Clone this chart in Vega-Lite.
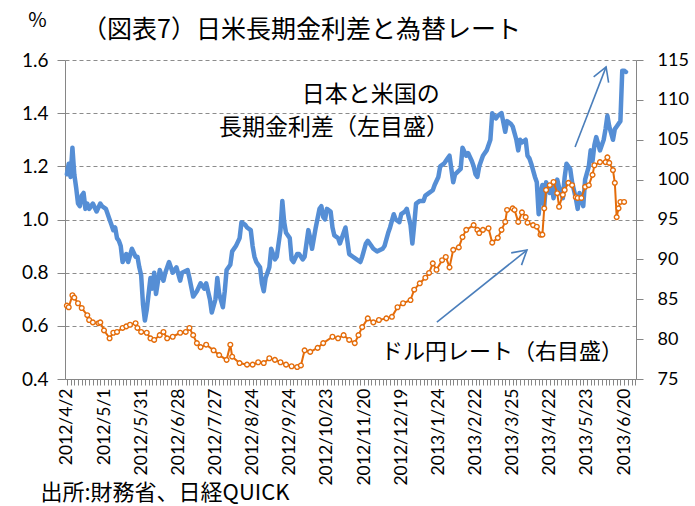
{
  "$schema": "https://vega.github.io/schema/vega-lite/v6.json",
  "width": 571,
  "height": 319,
  "autosize": {"type": "none"},
  "padding": {"left": 65, "top": 60, "right": 59, "bottom": 127},
  "background": "white",
  "title": {"text": "（図表7）日米長期金利差と為替レート", "anchor": "start", "frame": "group", "dx": 17, "offset": -58, "baseline": "bottom", "font": "Noto Sans CJK JP", "fontSize": 25, "fontWeight": "normal", "color": "#000000"},
  "config": {
    "view": {"stroke": null},
    "axis": {"domainColor": "#868686", "tickColor": "#868686", "labelColor": "#000000", "labelFont": "Lato", "gridColor": "#8c8c8c", "gridDash": [4, 3], "gridWidth": 1}
  },
  "datasets": {
    "spread": [
      {"i":0,"v":1.17},{"i":1,"v":1.21},{"i":2,"v":1.16},{"i":3,"v":1.27},{"i":4,"v":1.17},{"i":5,"v":1.12},{"i":6,"v":1.06},{"i":7,"v":1.05},{"i":8,"v":1.09},{"i":9,"v":1.10},{"i":10,"v":1.04},{"i":11,"v":1.06},{"i":12,"v":1.04},{"i":14,"v":1.06},{"i":16,"v":1.03},{"i":18,"v":1.06},{"i":19,"v":1.05},{"i":21,"v":1.04},{"i":23,"v":1.00},{"i":24,"v":0.98},{"i":25,"v":0.96},{"i":26,"v":0.97},{"i":27,"v":0.93},{"i":28,"v":0.92},{"i":29,"v":0.90},{"i":30,"v":0.84},{"i":32,"v":0.87},{"i":33,"v":0.84},{"i":35,"v":0.89},{"i":37,"v":0.86},{"i":38,"v":0.86},{"i":39,"v":0.82},{"i":40,"v":0.79},{"i":41,"v":0.68},{"i":42,"v":0.62},{"i":43,"v":0.66},{"i":45,"v":0.78},{"i":46,"v":0.74},{"i":47,"v":0.80},{"i":48,"v":0.72},{"i":50,"v":0.81},{"i":52,"v":0.77},{"i":53,"v":0.80},{"i":55,"v":0.84},{"i":57,"v":0.80},{"i":59,"v":0.82},{"i":61,"v":0.77},{"i":62,"v":0.80},{"i":65,"v":0.81},{"i":66,"v":0.78},{"i":68,"v":0.71},{"i":70,"v":0.73},{"i":72,"v":0.76},{"i":74,"v":0.74},{"i":75,"v":0.76},{"i":77,"v":0.70},{"i":78,"v":0.65},{"i":80,"v":0.70},{"i":81,"v":0.78},{"i":82,"v":0.72},{"i":84,"v":0.67},{"i":85,"v":0.73},{"i":86,"v":0.81},{"i":88,"v":0.83},{"i":89,"v":0.88},{"i":91,"v":0.90},{"i":93,"v":0.93},{"i":94,"v":0.99},{"i":96,"v":0.98},{"i":97,"v":0.97},{"i":99,"v":0.96},{"i":100,"v":0.90},{"i":101,"v":0.86},{"i":102,"v":0.84},{"i":104,"v":0.82},{"i":105,"v":0.76},{"i":106,"v":0.73},{"i":107,"v":0.78},{"i":109,"v":0.82},{"i":110,"v":0.89},{"i":112,"v":0.85},{"i":113,"v":0.86},{"i":115,"v":0.96},{"i":116,"v":1.07},{"i":117,"v":0.99},{"i":118,"v":0.95},{"i":120,"v":0.93},{"i":121,"v":0.85},{"i":122,"v":0.84},{"i":124,"v":0.87},{"i":125,"v":0.87},{"i":127,"v":0.85},{"i":128,"v":0.86},{"i":130,"v":0.96},{"i":131,"v":0.93},{"i":132,"v":0.89},{"i":134,"v":0.97},{"i":136,"v":1.04},{"i":137,"v":1.05},{"i":138,"v":1.01},{"i":139,"v":1.00},{"i":140,"v":1.04},{"i":142,"v":1.03},{"i":143,"v":0.97},{"i":144,"v":0.94},{"i":146,"v":0.93},{"i":147,"v":0.91},{"i":149,"v":0.95},{"i":150,"v":0.97},{"i":151,"v":0.92},{"i":152,"v":0.87},{"i":154,"v":0.86},{"i":156,"v":0.85},{"i":158,"v":0.84},{"i":159,"v":0.86},{"i":161,"v":0.91},{"i":162,"v":0.92},{"i":164,"v":0.90},{"i":165,"v":0.89},{"i":167,"v":0.88},{"i":170,"v":0.89},{"i":171,"v":0.90},{"i":173,"v":0.95},{"i":174,"v":0.97},{"i":176,"v":1.02},{"i":177,"v":1.00},{"i":179,"v":0.99},{"i":180,"v":1.02},{"i":182,"v":1.03},{"i":183,"v":1.04},{"i":185,"v":0.98},{"i":186,"v":0.91},{"i":187,"v":0.98},{"i":188,"v":1.06},{"i":190,"v":1.07},{"i":192,"v":1.07},{"i":193,"v":1.09},{"i":195,"v":1.10},{"i":197,"v":1.11},{"i":198,"v":1.13},{"i":200,"v":1.16},{"i":201,"v":1.20},{"i":203,"v":1.21},{"i":205,"v":1.23},{"i":206,"v":1.24},{"i":208,"v":1.14},{"i":209,"v":1.17},{"i":212,"v":1.19},{"i":213,"v":1.27},{"i":215,"v":1.24},{"i":216,"v":1.25},{"i":218,"v":1.22},{"i":219,"v":1.20},{"i":220,"v":1.17},{"i":221,"v":1.16},{"i":222,"v":1.20},{"i":224,"v":1.24},{"i":226,"v":1.26},{"i":228,"v":1.30},{"i":229,"v":1.40},{"i":231,"v":1.38},{"i":232,"v":1.39},{"i":234,"v":1.40},{"i":236,"v":1.33},{"i":237,"v":1.37},{"i":239,"v":1.36},{"i":240,"v":1.35},{"i":242,"v":1.30},{"i":243,"v":1.26},{"i":244,"v":1.30},{"i":245,"v":1.29},{"i":247,"v":1.30},{"i":248,"v":1.24},{"i":249,"v":1.23},{"i":250,"v":1.21},{"i":252,"v":1.16},{"i":253,"v":1.14},{"i":254,"v":1.02},{"i":255,"v":1.10},{"i":256,"v":1.13},{"i":257,"v":1.05},{"i":258,"v":1.14},{"i":260,"v":1.10},{"i":261,"v":1.13},{"i":262,"v":1.08},{"i":263,"v":1.12},{"i":264,"v":1.15},{"i":265,"v":1.12},{"i":267,"v":1.08},{"i":268,"v":1.16},{"i":269,"v":1.21},{"i":271,"v":1.19},{"i":272,"v":1.14},{"i":274,"v":1.08},{"i":275,"v":1.04},{"i":276,"v":1.10},{"i":278,"v":1.05},{"i":279,"v":1.15},{"i":281,"v":1.20},{"i":282,"v":1.26},{"i":283,"v":1.22},{"i":284,"v":1.28},{"i":285,"v":1.31},{"i":287,"v":1.26},{"i":289,"v":1.30},{"i":290,"v":1.34},{"i":291,"v":1.39},{"i":292,"v":1.35},{"i":294,"v":1.30},{"i":295,"v":1.34},{"i":296,"v":1.35},{"i":298,"v":1.37},{"i":299,"v":1.56},{"i":300,"v":1.56},{"i":301,"v":1.555}
    ],
    "yen": [
      {"i":0,"w":84.2},{"i":1,"w":84.0},{"i":3,"w":85.5},{"i":4,"w":85.2},{"i":6,"w":84.5},{"i":8,"w":83.9},{"i":11,"w":83.0},{"i":12,"w":82.4},{"i":14,"w":82.1},{"i":17,"w":82.0},{"i":18,"w":82.1},{"i":20,"w":81.1},{"i":23,"w":80.1},{"i":25,"w":80.8},{"i":27,"w":80.9},{"i":30,"w":81.4},{"i":32,"w":81.6},{"i":34,"w":81.8},{"i":37,"w":82.0},{"i":38,"w":81.4},{"i":40,"w":80.9},{"i":43,"w":80.8},{"i":45,"w":80.1},{"i":47,"w":79.9},{"i":50,"w":80.5},{"i":52,"w":80.9},{"i":54,"w":80.1},{"i":57,"w":80.3},{"i":61,"w":80.8},{"i":64,"w":80.9},{"i":66,"w":81.4},{"i":68,"w":80.5},{"i":70,"w":79.5},{"i":72,"w":79.0},{"i":75,"w":79.3},{"i":79,"w":78.6},{"i":82,"w":78.0},{"i":86,"w":77.4},{"i":88,"w":79.3},{"i":89,"w":77.8},{"i":93,"w":77.0},{"i":97,"w":76.8},{"i":100,"w":76.8},{"i":103,"w":77.1},{"i":106,"w":77.0},{"i":109,"w":77.6},{"i":112,"w":77.4},{"i":115,"w":77.1},{"i":118,"w":76.8},{"i":121,"w":76.6},{"i":124,"w":76.5},{"i":126,"w":76.7},{"i":128,"w":78.6},{"i":131,"w":78.4},{"i":135,"w":78.9},{"i":138,"w":79.5},{"i":143,"w":80.3},{"i":146,"w":80.1},{"i":149,"w":80.5},{"i":152,"w":79.9},{"i":155,"w":79.5},{"i":157,"w":80.5},{"i":159,"w":81.5},{"i":162,"w":82.6},{"i":165,"w":82.1},{"i":168,"w":82.4},{"i":172,"w":82.6},{"i":175,"w":82.8},{"i":178,"w":84.0},{"i":181,"w":84.5},{"i":185,"w":84.9},{"i":187,"w":86.2},{"i":190,"w":87.0},{"i":193,"w":87.7},{"i":195,"w":88.3},{"i":197,"w":89.5},{"i":199,"w":88.7},{"i":202,"w":89.9},{"i":204,"w":90.3},{"i":206,"w":89.0},{"i":208,"w":91.2},{"i":211,"w":91.5},{"i":213,"w":92.8},{"i":215,"w":93.7},{"i":219,"w":94.3},{"i":221,"w":93.7},{"i":222,"w":93.3},{"i":224,"w":93.7},{"i":227,"w":93.9},{"i":229,"w":92.1},{"i":232,"w":92.7},{"i":234,"w":93.7},{"i":236,"w":94.7},{"i":237,"w":96.2},{"i":240,"w":96.4},{"i":241,"w":96.2},{"i":243,"w":94.7},{"i":245,"w":95.9},{"i":247,"w":95.3},{"i":248,"w":94.6},{"i":251,"w":94.3},{"i":253,"w":94.1},{"i":255,"w":93.1},{"i":256,"w":93.1},{"i":257,"w":96.4},{"i":258,"w":98.7},{"i":260,"w":99.3},{"i":262,"w":99.7},{"i":264,"w":98.3},{"i":265,"w":96.6},{"i":267,"w":98.1},{"i":268,"w":98.7},{"i":270,"w":99.6},{"i":272,"w":99.3},{"i":274,"w":97.8},{"i":275,"w":97.7},{"i":277,"w":97.7},{"i":279,"w":99.1},{"i":281,"w":99.3},{"i":283,"w":100.6},{"i":284,"w":101.8},{"i":287,"w":102.2},{"i":290,"w":102.2},{"i":291,"w":102.8},{"i":292,"w":102.1},{"i":294,"w":101.2},{"i":295,"w":99.6},{"i":296,"w":95.3},{"i":297,"w":96.4},{"i":298,"w":97.2},{"i":300,"w":97.2}
    ],
    "arrows": [
      {"id": "up", "i": 273.6, "v": 1.273, "i2": 290.3, "v2": 1.574},
      {"id": "low", "i": 199.2, "v": 0.614, "i2": 247.7, "v2": 0.885}
    ],
    "heads": [
      {"id": "up", "i": 290.3, "v": 1.574},
      {"id": "low", "i": 247.7, "v": 0.885}
    ],
    "notes": [
      {"i": 126.5, "v": 1.468, "text": "日本と米国の", "grp": "a"},
      {"i": 81.9, "v": 1.344, "text": "長期金利差（左目盛）", "grp": "a"},
      {"i": 169.1, "v": 0.502, "text": "ドル円レート（右目盛）", "grp": "b"}
    ]
  },
  "encoding": {
    "x": {
      "field": "i", "type": "quantitative",
      "scale": {"domain": [-1, 306.4], "nice": false, "zero": false},
      "axis": {
        "values": [0,2,4,6,8,10,12,14,16,18,20,22,24,26,28,30,32,34,36,38,40,42,44,46,48,50,52,54,56,58,60,62,64,66,68,70,72,74,76,78,80,82,84,86,88,90,92,94,96,98,100,102,104,106,108,110,112,114,116,118,120,122,124,126,128,130,132,134,136,138,140,142,144,146,148,150,152,154,156,158,160,162,164,166,168,170,172,174,176,178,180,182,184,186,188,190,192,194,196,198,200,202,204,206,208,210,212,214,216,218,220,222,224,226,228,230,232,234,236,238,240,242,244,246,248,250,252,254,256,258,260,262,264,266,268,270,272,274,276,278,280,282,284,286,288,290,292,294,296,298,300,302,304,306],
        "labelExpr": "datum.value % 20 == 0 && datum.value <= 300 ? ['2012/4/2','2012/5/1','2012/5/31','2012/6/28','2012/7/27','2012/8/24','2012/9/24','2012/10/23','2012/11/20','2012/12/19','2013/1/24','2013/2/22','2013/3/25','2013/4/22','2013/5/23','2013/6/20'][datum.value / 20] : ''",
        "labelAngle": -90, "labelFontSize": 17.5, "labelOverlap": false, "labelFlush": false, "labelPadding": 3,
        "tickSize": 6, "grid": false,
        "title": "出所:財務省、日経QUICK", "titleX": -25, "titleY": 113, "titleAlign": "left", "titleBaseline": "middle", "titleAngle": 0,
        "titleFont": "Noto Sans CJK JP", "titleFontSize": 22, "titleFontWeight": "normal", "titleColor": "#000000"
      }
    }
  },
  "layer": [
    {
      "encoding": {
        "y": {
          "field": "v", "type": "quantitative",
          "scale": {"domain": [0.4, 1.6], "nice": false, "zero": false},
          "axis": {
            "orient": "left", "values": [0.4, 0.6, 0.8, 1.0, 1.2, 1.4, 1.6], "format": ".1f", "grid": true,
            "tickSize": 8, "labelPadding": 9, "labelFontSize": 19, "labelFlush": false,
            "title": "%", "titleAngle": 0, "titleX": -28, "titleY": -40, "titleAlign": "center", "titleBaseline": "middle",
            "titleFont": "Noto Sans CJK JP", "titleFontSize": 20, "titleFontWeight": "normal", "titleColor": "#000000"
          }
        }
      },
      "layer": [
        {
          "data": {"name": "spread"},
          "mark": {"type": "line", "color": "#558ED5", "strokeWidth": 4.5, "strokeJoin": "round", "strokeCap": "round"}
        },
        {
          "data": {"name": "arrows"},
          "mark": {"type": "rule", "color": "#4A7EBB", "strokeWidth": 1.6},
          "encoding": {"x2": {"field": "i2"}, "y2": {"field": "v2"}}
        },
        {
          "data": {"name": "heads"},
          "transform": [{"filter": "datum.id == 'up'"}],
          "mark": {"type": "point", "shape": "M -0.5 0.866 L 0 0 L 0.5 0.866", "size": 1024, "angle": 21, "filled": false, "stroke": "#4A7EBB", "strokeWidth": 1.6, "opacity": 1}
        },
        {
          "data": {"name": "heads"},
          "transform": [{"filter": "datum.id == 'low'"}],
          "mark": {"type": "point", "shape": "M -0.5 0.866 L 0 0 L 0.5 0.866", "size": 1024, "angle": 50, "filled": false, "stroke": "#4A7EBB", "strokeWidth": 1.6, "opacity": 1}
        },
        {
          "data": {"name": "notes"},
          "transform": [{"filter": "datum.grp == 'a'"}],
          "mark": {"type": "text", "align": "left", "baseline": "middle", "font": "Noto Sans CJK JP", "fontSize": 23, "color": "#000000"},
          "encoding": {"text": {"field": "text"}}
        },
        {
          "data": {"name": "notes"},
          "transform": [{"filter": "datum.grp == 'b'"}],
          "mark": {"type": "text", "align": "left", "baseline": "middle", "font": "Noto Sans CJK JP", "fontSize": 22, "color": "#000000"},
          "encoding": {"text": {"field": "text"}}
        }
      ]
    },
    {
      "data": {"name": "yen"},
      "encoding": {
        "y": {
          "field": "w", "type": "quantitative",
          "scale": {"domain": [75, 115], "nice": false, "zero": false},
          "axis": {
            "orient": "right", "values": [75, 80, 85, 90, 95, 100, 105, 110, 115], "grid": false,
            "tickSize": 7, "labelPadding": 14, "labelFontSize": 18, "labelFlush": false, "title": null
          }
        }
      },
      "layer": [
        {"mark": {"type": "line", "color": "#E46C0A", "strokeWidth": 2}},
        {"mark": {"type": "point", "shape": "circle", "size": 22, "filled": true, "fill": "#ffffff", "stroke": "#E46C0A", "strokeWidth": 1.4, "opacity": 1}}
      ]
    }
  ],
  "resolve": {"scale": {"y": "independent"}}
}
